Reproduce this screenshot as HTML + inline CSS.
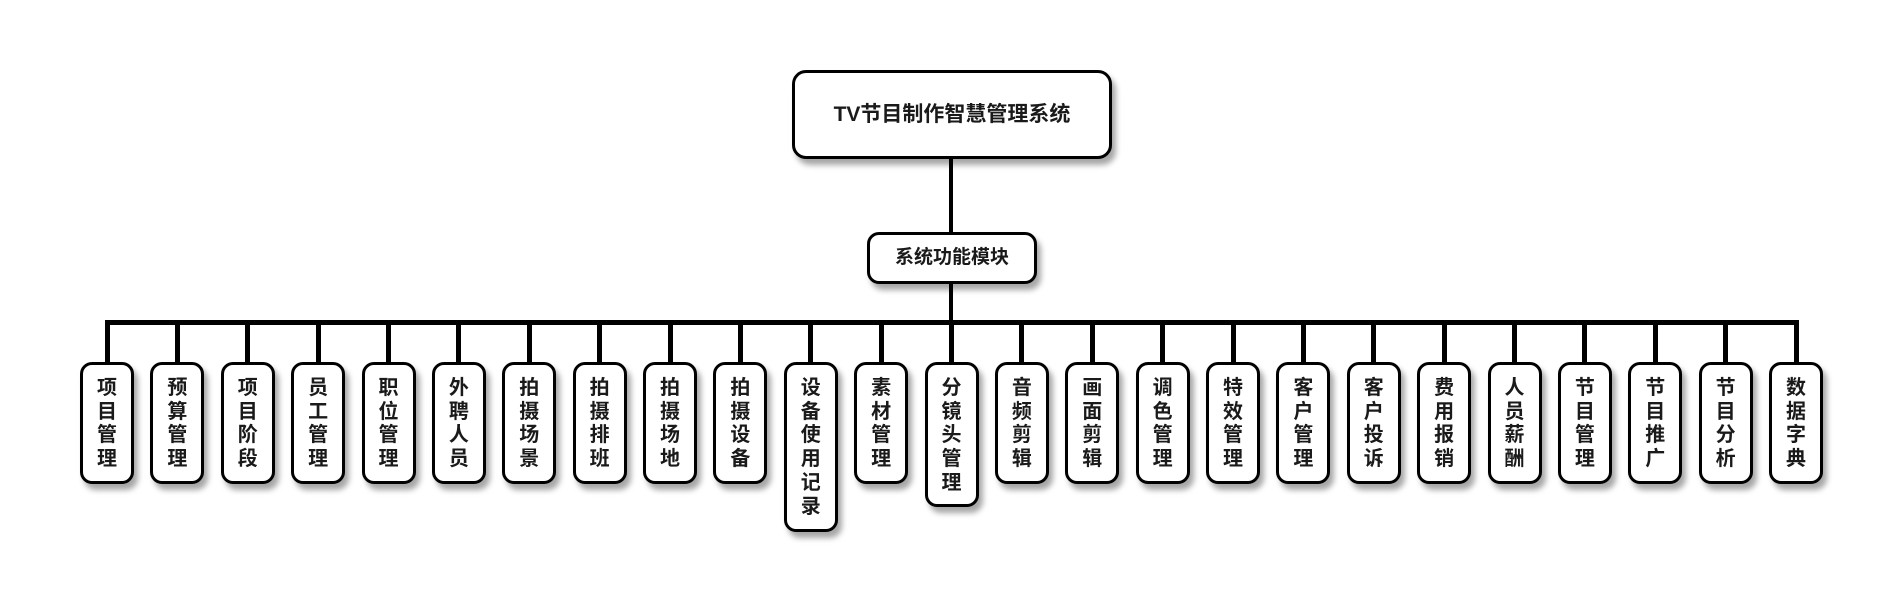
<!DOCTYPE html>
<html><head><meta charset="utf-8"><style>
html,body{margin:0;padding:0;background:#fff;}
body{width:1902px;height:607px;position:relative;overflow:hidden;font-family:"Liberation Sans","Noto Sans CJK SC",sans-serif;font-weight:bold;color:#1a1a1a;}
.box{position:absolute;background:#fff;border:3px solid #000;box-sizing:border-box;box-shadow:4px 6px 6px rgba(0,0,0,0.35);}
.ln{position:absolute;background:#000;}
.v{width:54px;top:362px;border-radius:12px;text-align:center;font-size:20px;line-height:23.7px;padding-top:12px;}
</style></head><body>
<div class="ln" style="left:949px;top:158px;width:4px;height:75px"></div>
<div class="ln" style="left:949px;top:283px;width:4px;height:40px"></div>
<div class="ln" style="left:105px;top:320px;width:1694px;height:5px"></div>
<div class="box" style="left:792px;top:70px;width:320px;height:89px;border-radius:14px;font-size:21px;line-height:83px;text-align:center;">TV节目制作智慧管理系统</div>
<div class="box" style="left:867px;top:232px;width:170px;height:52px;border-radius:12px;font-size:19px;line-height:46px;text-align:center;">系统功能模块</div>
<div id="c"></div>
<script>
var L=["项目管理","预算管理","项目阶段","员工管理","职位管理","外聘人员","拍摄场景","拍摄排班","拍摄场地","拍摄设备","设备使用记录","素材管理","分镜头管理","音频剪辑","画面剪辑","调色管理","特效管理","客户管理","客户投诉","费用报销","人员薪酬","节目管理","节目推广","节目分析","数据字典"];
var h="";
for(var i=0;i<L.length;i++){
 var cx=107+i*70.375;
 var n=L[i].length;
 var H=n==6?170:(n==5?145:122);
 h+='<div class="ln" style="left:'+(cx-2.5)+'px;top:322px;width:5px;height:42px"></div>';
 h+='<div class="box v" style="left:'+(cx-27)+'px;height:'+H+'px">'+L[i].split("").join("<br>")+'</div>';
}
document.getElementById("c").innerHTML=h;
</script>
</body></html>
